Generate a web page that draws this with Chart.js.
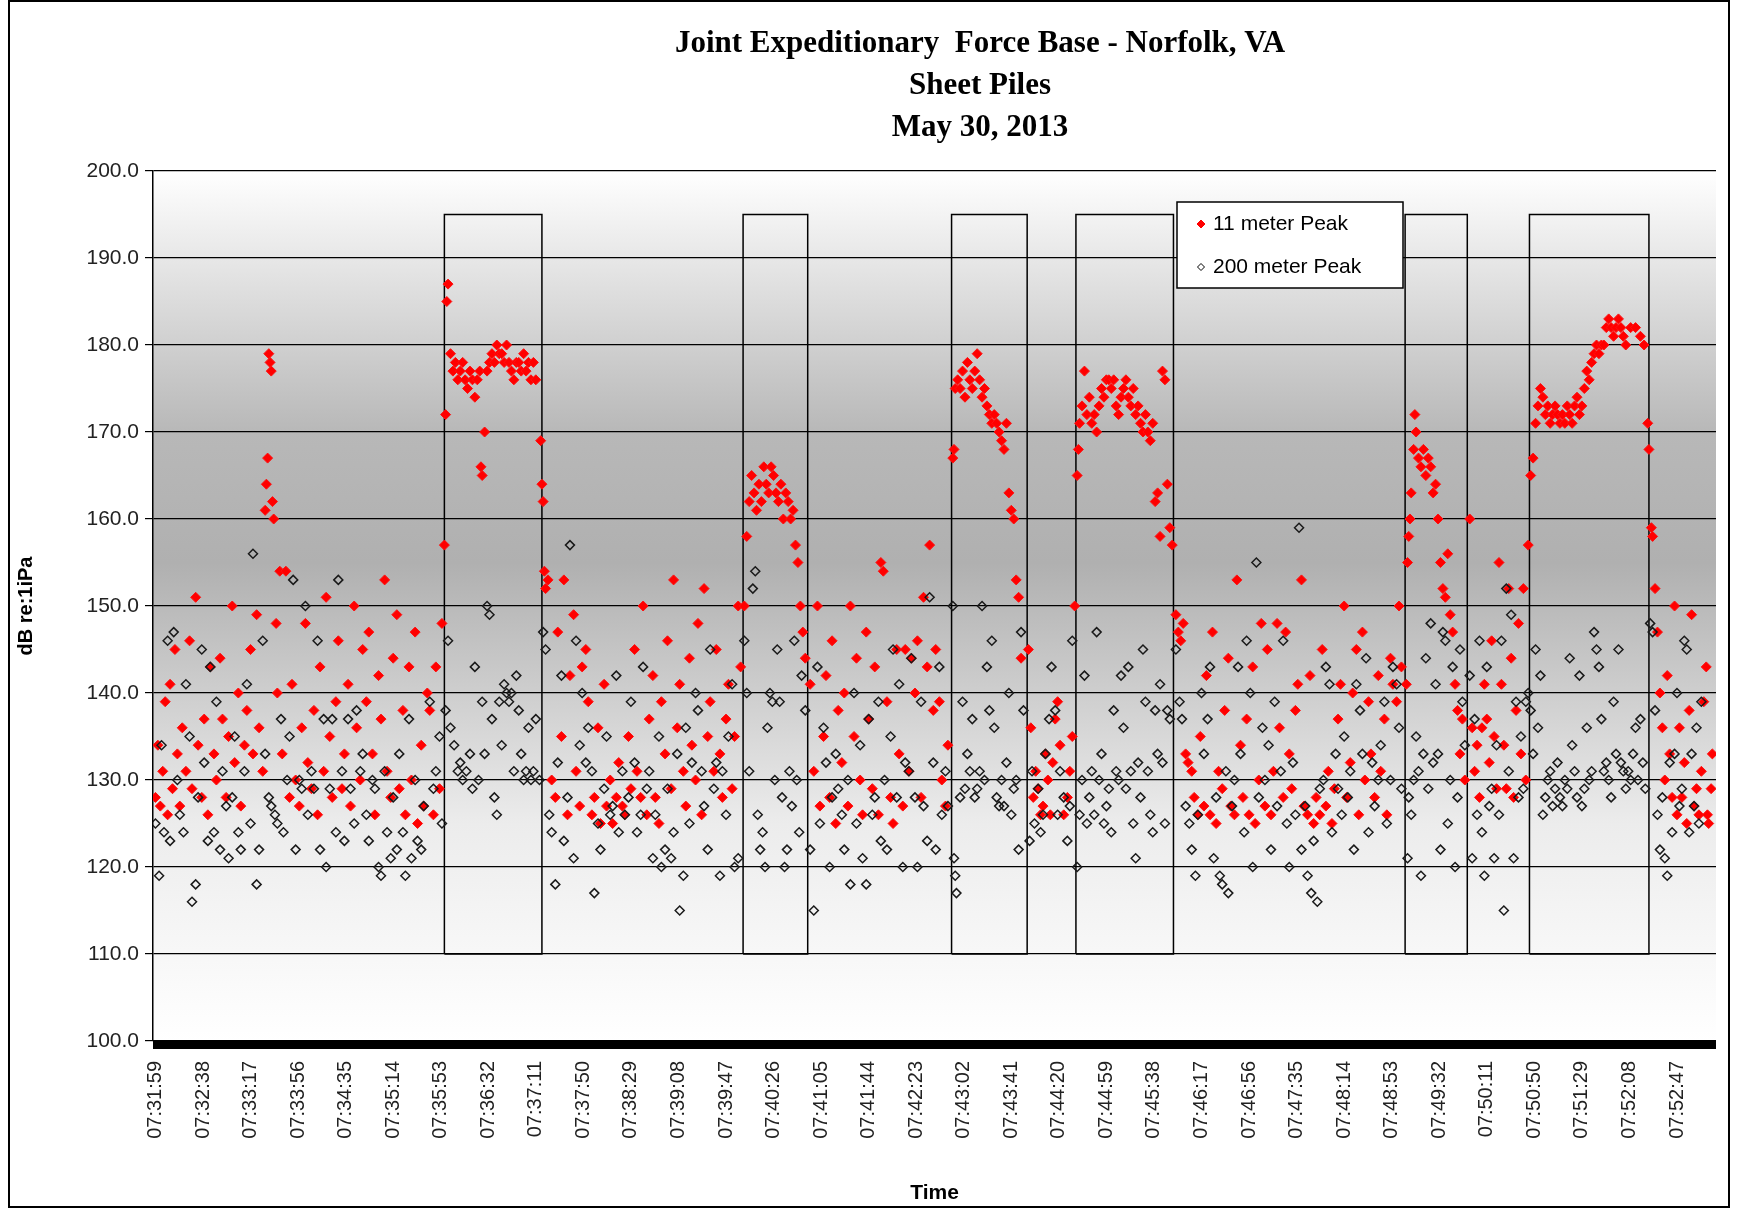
<!DOCTYPE html>
<html>
<head>
<meta charset="utf-8">
<script src="https://cdn.jsdelivr.net/npm/chart.js@4/dist/chart.umd.min.js"></script>
<style>
  html, body { margin: 0; padding: 0; background: #fff; }
  #wrap { position: relative; width: 1737px; height: 1210px; }
  #frame { position: absolute; left: 8px; top: 0; width: 1722px; height: 1208px; border: 2px solid #000; box-sizing: border-box; pointer-events: none; }
</style>
</head>
<body>
<div id="wrap">
  <canvas id="chart"></canvas>
  <div id="frame"></div>
</div>
<script>
// time is seconds after 07:31:59
const startTime = 7 * 3600 + 31 * 60 + 59;
const titleLines = ['Joint Expeditionary  Force Base - Norfolk, VA', 'Sheet Piles', 'May 30, 2013'];

// pile driving windows (seconds)
const boxStart = [237, 482, 653, 755, 1025, 1127];
const boxEnd   = [317, 535, 715, 835, 1076, 1225];
const boxTop = 195;
const boxBottom = 110;

// [seconds, dB]
const peak11m = [
  [0,128],[2,134],[4,127],[6,131],[8,139],[10,126],[12,141],[14,129],[16,145],[18,133],[20,127],[22,136],[25,131],[28,146],[30,129],[33,151],[35,134],[38,128],[40,137],[43,126],[45,143],[48,133],[50,130],[53,144],[55,137],[58,128],[60,135],[63,150],[65,132],[68,140],[70,127],[73,134],[75,138],[78,145],[80,133],[83,149],[85,136],[88,131],[90,161],[91,164],[92,167],[93,179],[94,178],[95,177],[96,162],[97,160],[99,148],[100,140],[102,154],[104,133],[107,154],[110,128],[112,141],[115,130],[118,127],[120,136],[123,148],[125,132],[128,129],[130,138],[133,126],[135,143],[138,131],[140,151],[143,135],[145,128],[148,139],[150,146],[153,129],[155,133],[158,141],[160,127],[163,150],[165,136],[168,130],[170,145],[173,139],[175,147],[178,133],[180,126],[183,142],[185,137],[188,153],[190,131],[193,128],[195,144],[198,149],[200,129],[203,138],[205,126],[208,143],[210,130],[213,147],[215,125],[218,134],[220,127],[223,140],[225,138],[228,126],[230,143],[233,129],[235,148],
  [237,157],[238,172],[239,185],[240,187],[242,179],[244,177],[246,178],[248,176],[250,177],[252,178],[254,176],[256,175],[258,177],[260,176],[262,174],[264,176],[266,177],[267,166],[268,165],[270,170],[272,177],[274,178],[276,179],[278,178],[280,180],[282,179],[284,179],[286,178],[288,180],[290,178],[292,177],[294,176],[296,178],[298,178],[300,177],[302,179],[304,177],[306,178],[308,176],[310,178],[312,176],[316,169],[317,164],[318,162],
  [319,154],[320,152],[322,153],[325,130],[328,128],[330,147],[333,135],[335,153],[338,126],[340,142],[343,149],[345,131],[348,127],[350,143],[353,145],[355,139],[358,126],[360,128],[363,136],[365,125],[368,141],[370,127],[373,130],[375,125],[378,128],[380,132],[383,127],[385,126],[388,135],[390,129],[393,145],[395,131],[398,128],[400,150],[403,126],[405,137],[408,142],[410,128],[413,125],[415,139],[418,133],[420,146],[423,129],[425,153],[428,136],[430,141],[433,131],[435,127],[438,144],[440,134],[443,130],[445,148],[448,126],[450,152],[453,135],[455,139],[458,131],[460,145],[463,133],[465,128],[468,137],[470,141],[473,129],[475,135],[478,150],[480,143],
  [483,150],[485,158],[487,162],[489,165],[491,163],[493,161],[495,164],[497,162],[499,166],[501,164],[503,163],[505,166],[507,165],[509,163],[511,162],[513,164],[515,160],[517,163],[519,162],[521,160],[523,161],[525,157],[527,155],[529,150],[531,147],[533,144],
  [537,141],[540,131],[543,150],[545,127],[548,135],[550,142],[553,128],[555,146],[558,125],[560,138],[563,132],[565,140],[568,127],[570,150],[573,135],[575,144],[578,130],[580,126],[583,147],[585,137],[588,129],[590,143],[593,126],[595,155],[597,154],[600,139],[603,128],[605,125],[608,145],[610,133],[613,127],[615,145],[618,131],[620,144],[623,140],[625,146],[628,128],[630,151],[633,143],[635,157],[638,138],[640,145],[643,139],[645,130],[648,127],[650,134],
  [654,167],[655,168],[656,175],[658,176],[660,175],[662,177],[664,174],[666,178],[668,176],[670,175],[672,177],[674,179],[676,176],[678,174],[680,175],[682,173],[684,172],[686,171],[688,172],[690,171],[692,170],[694,169],[696,168],[698,171],[700,163],[702,161],[704,160],[706,153],[708,151],[710,144],
  [716,145],[718,136],[720,128],[722,131],[724,129],[726,126],[728,127],[730,133],[732,130],[734,126],[736,132],[738,137],[740,139],[742,134],[745,126],[748,128],[750,131],[752,135],[754,150],
  [756,165],[757,168],[758,171],[760,173],[762,177],[764,172],[766,174],[768,171],[770,172],[772,170],[774,173],[776,175],[778,174],[780,176],[782,176],[784,175],[786,176],[788,173],[790,172],[792,174],[794,175],[796,176],[798,174],[800,173],[802,175],[804,172],[806,173],[808,171],[810,170],[812,172],[814,170],[816,169],[818,171],[820,162],[822,163],[824,158],[826,177],[828,176],[830,164],[832,159],[834,157],
  [837,149],[839,147],[841,146],[843,148],[845,133],[847,132],[850,131],[852,128],[855,126],[857,135],[860,127],[862,142],[865,126],[867,147],[870,125],[872,131],[875,129],[877,138],[880,144],[882,127],[885,126],[887,153],[890,134],[892,128],[895,137],[897,126],[900,143],[902,125],[905,130],[907,148],[910,127],[912,145],[915,126],[917,131],[920,148],[922,136],[925,128],[927,147],[930,133],[932,129],[935,138],[937,141],[940,153],[942,127],[945,126],[947,142],[950,125],[952,128],[955,126],[957,145],[960,127],[962,131],[965,125],[967,129],[970,137],[972,141],[975,150],[977,128],[980,132],[982,140],[985,145],[987,126],[990,147],[992,130],[995,139],[997,133],[1000,128],[1003,142],[1005,131],[1008,137],[1010,126],[1013,144],[1015,141],[1018,139],[1020,150],[1022,143],
  [1026,141],[1027,155],[1028,158],[1029,160],[1030,163],[1032,168],[1033,172],[1034,170],[1036,167],[1038,166],[1040,168],[1042,165],[1044,167],[1046,166],[1048,163],[1050,164],[1052,160],[1054,155],[1056,152],[1058,151],[1060,156],[1062,149],[1064,147],[1066,141],[1068,138],[1070,133],[1072,137],[1074,130],
  [1078,160],[1080,136],[1082,131],[1084,134],[1086,128],[1088,136],[1090,141],[1092,137],[1094,132],[1096,146],[1098,135],[1100,129],[1102,155],[1104,141],[1106,134],[1108,129],[1110,152],[1112,144],[1114,128],[1116,138],[1118,148],[1120,133],[1122,152],[1124,130],[1126,157],
  [1128,165],[1130,167],[1132,171],[1134,173],[1136,175],[1138,174],[1140,172],[1142,173],[1144,171],[1146,172],[1148,173],[1150,172],[1152,171],[1154,172],[1156,171],[1158,173],[1160,172],[1162,171],[1164,173],[1166,174],[1168,172],[1170,173],[1172,175],[1174,177],[1176,176],[1178,178],[1180,179],[1182,180],[1184,179],[1186,180],[1188,180],[1190,182],[1192,183],[1194,182],[1196,181],[1198,182],[1200,183],[1202,182],[1204,181],[1206,180],[1210,182],[1214,182],[1218,181],[1221,180],
  [1224,171],[1225,168],[1227,159],[1228,158],[1230,152],[1232,147],[1234,140],[1236,136],[1238,130],[1240,142],[1242,133],[1244,128],[1246,150],[1248,126],[1250,136],[1252,128],[1254,132],[1256,125],[1258,138],[1260,149],[1262,127],[1264,129],[1266,126],[1268,131],[1270,139],[1272,143],[1273,126],[1274,125],[1276,129],[1277,133]
];

const peak200m = [
  [0,125],[3,119],[5,134],[7,124],[10,146],[12,123],[15,147],[18,130],[20,126],[23,124],[25,141],[28,135],[30,116],[33,118],[35,128],[38,145],[40,132],[43,123],[45,143],[48,124],[50,139],[53,122],[55,131],[58,127],[60,121],[63,128],[65,135],[68,124],[70,122],[73,131],[75,141],[78,125],[80,156],[83,118],[85,122],[88,146],[90,133],[93,128],[95,127],[98,126],[100,125],[103,137],[105,124],[108,130],[110,135],[113,153],[115,122],[118,130],[120,129],[123,150],[125,126],[128,131],[130,129],[133,146],[135,122],[138,137],[140,120],[143,129],[145,137],[148,124],[150,153],[153,131],[155,123],[158,137],[160,129],[163,125],[165,138],[168,131],[170,133],[173,126],[175,123],[178,130],[180,129],[183,120],[185,119],[188,131],[190,124],[193,121],[195,128],[198,122],[200,133],[203,124],[205,119],[208,137],[210,121],[213,130],[215,123],[218,122],[220,127],[225,139],[228,129],[230,131],[233,135],[235,125],
  [238,138],[240,146],[242,136],[245,134],[248,131],[250,132],[252,130],[255,131],[258,133],[260,129],[262,143],[265,130],[268,139],[270,133],[272,150],[274,149],[276,137],[278,128],[280,126],[282,139],[284,134],[286,141],[288,140],[290,139],[292,140],[294,131],[296,142],[298,138],[300,133],[302,130],[304,131],[306,136],[308,130],[310,131],[312,137],[315,130],
  [318,147],[320,145],[323,126],[325,124],[328,118],[330,132],[333,142],[335,123],[338,128],[340,157],[343,121],[345,146],[348,134],[350,140],[353,132],[355,136],[358,131],[360,117],[363,125],[365,122],[368,129],[370,135],[373,126],[375,127],[378,142],[380,124],[383,131],[385,126],[388,128],[390,139],[393,132],[395,124],[398,126],[400,143],[403,129],[405,131],[408,121],[410,126],[413,135],[415,120],[418,122],[420,129],[423,121],[425,124],[428,133],[430,115],[433,119],[435,136],[438,125],[440,132],[443,140],[445,138],[448,131],[450,127],[453,122],[455,145],[458,129],[460,132],[463,119],[465,131],[468,126],[470,135],[473,141],[475,120],[478,121],
  [483,146],[485,140],[487,131],[490,152],[492,154],[494,126],[496,122],[498,124],[500,120],[502,136],[504,140],[506,139],[508,130],[510,145],[512,139],[514,128],[516,120],[518,122],[520,131],[522,127],[524,146],[526,130],[528,124],[530,142],[533,138],
  [537,122],[540,115],[543,143],[545,125],[548,136],[550,132],[553,120],[555,128],[558,133],[560,129],[563,126],[565,122],[568,130],[570,118],[573,140],[575,125],[578,134],[580,121],[583,118],[585,137],[588,126],[590,128],[593,139],[595,123],[598,130],[600,122],[603,135],[605,145],[608,128],[610,141],[613,120],[615,132],[618,131],[620,144],[623,128],[625,120],[628,139],[630,127],[633,123],[635,151],[638,132],[640,122],[643,143],[645,126],[648,131],[650,127],
  [654,150],[655,121],[656,119],[657,117],[660,128],[662,139],[664,129],[666,133],[668,131],[670,137],[672,128],[674,129],[676,131],[678,150],[680,130],[682,143],[684,138],[686,146],[688,136],[690,128],[692,127],[694,130],[696,127],[698,132],[700,140],[702,126],[704,129],[706,130],[708,122],[710,147],[712,138],
  [717,123],[719,131],[721,125],[724,129],[726,124],[728,126],[730,133],[733,137],[735,143],[738,138],[740,126],[742,131],[745,128],[748,123],[750,127],[752,146],
  [756,120],[758,126],[760,130],[762,142],[764,125],[766,128],[768,131],[770,126],[772,147],[774,130],[776,133],[778,125],[780,127],[782,129],[784,124],[786,138],[788,131],[790,130],[792,142],[794,136],[796,129],[798,143],[800,131],[802,125],[804,121],[806,132],[808,128],[810,145],[812,139],[814,131],[816,126],[818,124],[820,138],[822,133],[824,141],[826,132],[828,125],[830,138],[832,137],
  [837,145],[840,139],[842,137],[845,127],[848,125],[850,122],[853,119],[855,126],[858,140],[860,133],[863,137],[865,143],[868,121],[870,128],[873,119],[875,118],[878,131],[880,117],[883,127],[885,130],[888,143],[890,133],[893,124],[895,146],[898,140],[900,120],[903,155],[905,128],[908,136],[910,130],[913,134],[915,122],[918,139],[920,127],[923,131],[925,146],[928,125],[930,120],[933,132],[935,126],[938,159],[940,122],[943,127],[945,119],[948,117],[950,123],[953,116],[955,129],[958,130],[960,143],[963,141],[965,124],[968,133],[970,129],[973,126],[975,135],[978,128],[980,131],[983,122],[985,141],[988,138],[990,133],[993,144],[995,124],[998,132],[1000,127],[1003,130],[1005,134],[1008,139],[1010,125],[1013,130],[1015,143],[1018,141],[1020,136],[1022,129],
  [1027,121],[1028,128],[1030,126],[1032,130],[1034,135],[1036,131],[1038,119],[1040,133],[1042,144],[1044,129],[1046,148],[1048,132],[1050,141],[1052,133],[1054,122],[1056,147],[1058,146],[1060,125],[1062,130],[1064,143],[1066,120],[1068,128],[1070,145],[1072,139],[1074,134],
  [1078,142],[1080,121],[1082,137],[1084,126],[1086,146],[1088,124],[1090,119],[1092,143],[1094,127],[1096,129],[1098,121],[1100,134],[1102,126],[1104,146],[1106,115],[1108,152],[1110,131],[1112,149],[1114,121],[1116,139],[1118,128],[1120,135],[1122,129],[1124,139],[1126,140],
  [1128,138],[1130,133],[1132,145],[1134,136],[1136,142],[1138,126],[1140,128],[1142,130],[1144,131],[1146,127],[1148,129],[1150,132],[1152,128],[1154,127],[1156,130],[1158,129],[1160,144],[1162,134],[1164,131],[1166,128],[1168,142],[1170,127],[1172,129],[1174,136],[1176,130],[1178,131],[1180,147],[1182,145],[1184,143],[1186,137],[1188,131],[1190,132],[1192,130],[1194,128],[1196,139],[1198,133],[1200,145],[1202,132],[1204,131],[1206,129],[1208,131],[1210,130],[1212,133],[1214,136],[1216,130],[1218,137],[1220,132],[1222,129],
  [1226,148],[1228,147],[1230,138],[1232,126],[1234,122],[1236,128],[1238,121],[1240,119],[1242,132],[1244,124],[1246,133],[1248,140],[1250,127],[1252,129],[1254,146],[1256,145],[1258,124],[1260,133],[1262,127],[1264,136],[1266,125],[1268,139]
];

function toPoints(arr) {
  return arr.map(p => ({ x: p[0], y: p[1] }));
}

function boxOutline() {
  const pts = [];
  for (let i = 0; i < boxStart.length; i++) {
    pts.push({ x: boxStart[i], y: boxBottom }, { x: boxStart[i], y: boxTop },
             { x: boxEnd[i], y: boxTop }, { x: boxEnd[i], y: boxBottom },
             { x: boxStart[i], y: boxBottom }, { x: boxStart[i], y: null });
  }
  return pts;
}

function fmtTime(s) {
  const t = startTime + Math.round(s);
  const h = Math.floor(t / 3600), m = Math.floor((t % 3600) / 60), sec = t % 60;
  return [h, m, sec].map(v => String(v).padStart(2, '0')).join(':');
}

const decorPlugin = {
  id: 'decor',
  beforeDatasetsDraw(chart) {
    const { ctx, chartArea: a } = chart;
    const g = ctx.createLinearGradient(0, a.top, 0, a.bottom);
    g.addColorStop(0, '#ffffff');
    g.addColorStop(0.3, '#b8b8b8');
    g.addColorStop(0.45, '#b0b0b0');
    g.addColorStop(0.75, '#ececec');
    g.addColorStop(1, '#ffffff');
    ctx.save();
    ctx.globalCompositeOperation = 'destination-over';
    ctx.fillStyle = g;
    ctx.fillRect(a.left, a.top, a.right - a.left, a.bottom - a.top);
    ctx.restore();
  },
  afterDraw(chart) {
    const { ctx, chartArea: a } = chart;
    ctx.save();
    // thick base line
    ctx.fillStyle = '#000';
    ctx.fillRect(a.left, a.bottom - 1, a.right - a.left, 9);
    // title
    ctx.font = 'bold 31px "Liberation Serif", "Times New Roman", serif';
    ctx.textAlign = 'center';
    ctx.textBaseline = 'middle';
    titleLines.forEach((t, i) => ctx.fillText(t, 980, 44 + i * 42));
    // legend
    const lx = 1177, ly = 202, lw = 226, lh = 86;
    ctx.fillStyle = '#fff';
    ctx.fillRect(lx, ly, lw, lh);
    ctx.strokeStyle = '#000';
    ctx.lineWidth = 1.5;
    ctx.strokeRect(lx, ly, lw, lh);
    ctx.font = '21px "Liberation Sans", Arial, sans-serif';
    ctx.textAlign = 'left';
    ctx.fillStyle = '#000';
    ctx.fillText('11 meter Peak', lx + 36, ly + 22);
    ctx.fillText('200 meter Peak', lx + 36, ly + 65);
    drawDiamond(ctx, lx + 24, ly + 22, 4, '#ff0000', '#ff0000');
    drawDiamond(ctx, lx + 24, ly + 65, 3.5, '#fff', '#000');
    ctx.restore();
  }
};

function drawDiamond(ctx, x, y, r, fill, stroke) {
  ctx.beginPath();
  ctx.moveTo(x, y - r); ctx.lineTo(x + r, y); ctx.lineTo(x, y + r); ctx.lineTo(x - r, y); ctx.closePath();
  ctx.fillStyle = fill; ctx.fill();
  ctx.strokeStyle = stroke; ctx.lineWidth = 1; ctx.stroke();
}

new Chart(document.getElementById('chart'), {
  type: 'scatter',
  data: {
    datasets: [
      {
        label: '11 meter Peak', data: toPoints(peak11m), order: 2,
        pointStyle: 'rectRot', radius: 5, backgroundColor: '#ff0000', borderColor: '#ff1010', borderWidth: 1
      },
      {
        label: '200 meter Peak', data: toPoints(peak200m), order: 1,
        pointStyle: 'rectRot', radius: 4.5, backgroundColor: 'rgba(0,0,0,0)', borderColor: '#1a1a1a', borderWidth: 1.5
      },
      {
        label: 'boxes', type: 'line', data: boxOutline(), order: 3, spanGaps: false,
        showLine: true, pointRadius: 0, borderColor: '#000', borderWidth: 1.5, fill: false
      }
    ]
  },
  options: {
    responsive: true,
    maintainAspectRatio: false,
    animation: false,
    layout: { padding: { left: 10, right: 21, top: 171, bottom: 0 } },
    plugins: { legend: { display: false }, tooltip: { enabled: false }, title: { display: false } },
    scales: {
      x: {
        type: 'linear', min: -2, max: 1280,
        afterFit: s => { s.height = 169; },
        grid: { display: false },
        border: { display: false },
        ticks: {
          stepSize: 39, includeBounds: false, autoSkip: false,
          minRotation: 90, maxRotation: 90, padding: 12,
          color: '#222', font: { family: '"Liberation Sans", Arial, sans-serif', size: 20 },
          callback: v => fmtTime(v)
        },
        title: { display: true, text: 'Time', color: '#000', font: { family: '"Liberation Sans", Arial, sans-serif', size: 21, weight: 'bold' } }
      },
      y: {
        min: 100, max: 200,
        afterFit: s => { s.width = 143; },
        grid: { color: '#000', lineWidth: 1.2, tickLength: 8 },
        border: { color: '#000', width: 1.5 },
        ticks: {
          stepSize: 10, padding: 6, color: '#222',
          font: { family: '"Liberation Sans", Arial, sans-serif', size: 21 },
          callback: v => v.toFixed(1)
        },
        title: { display: true, text: 'dB re:1iPa', color: '#000', font: { family: '"Liberation Sans", Arial, sans-serif', size: 20, weight: 'bold' } }
      }
    }
  },
  plugins: [decorPlugin]
});
</script>
</body>
</html>
